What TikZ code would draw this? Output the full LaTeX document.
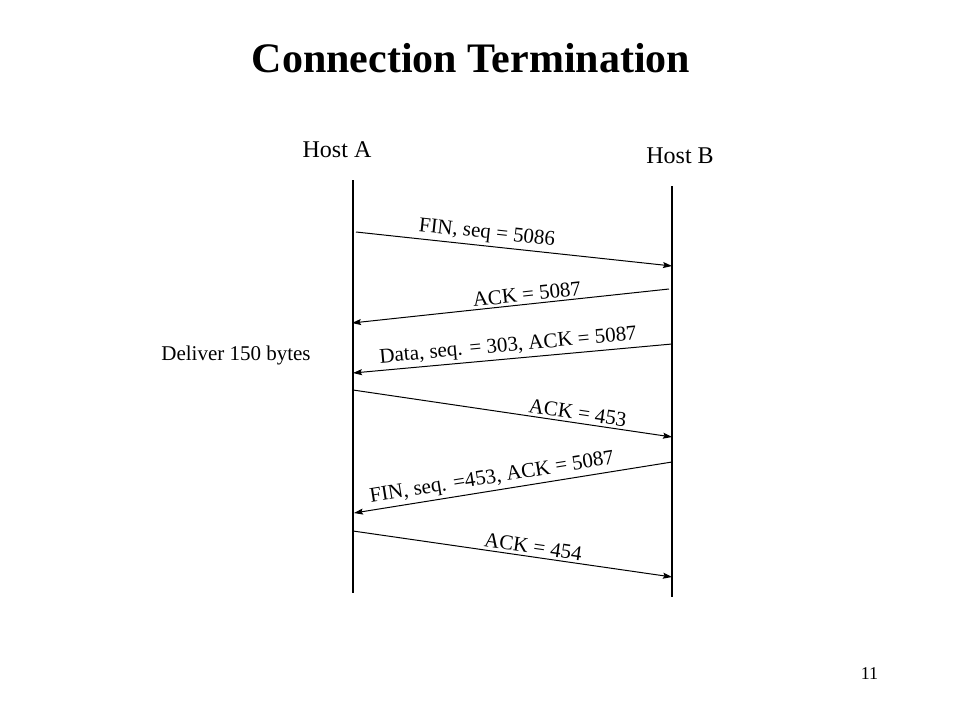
\documentclass[tikz,border=0pt]{standalone}
\usepackage{fontspec}
\setmainfont{Liberation Serif}
\usetikzlibrary{arrows.meta}
\tikzset{
  titre/.style = {font=\fontsize{42}{50}\selectfont\bfseries, anchor=base},
  hote/.style = {font=\fontsize{24}{28}\selectfont, anchor=base},% nom d'hote
  note/.style = {font=\fontsize{21}{25}\selectfont, anchor=base},
  vie/.style = {line width=1.2pt},% ligne de vie
  msg/.style = {->, line width=1pt},% message
  msg_l/.style = {font=\fontsize{21}{25}\selectfont, sloped, above,
    inner sep=2.5pt}% etiquette du message
}
\begin{document}
\begin{tikzpicture}[>={Stealth[length=9pt,width=6pt,inset=1.5pt]}, x=1pt, y=-1pt]
\useasboundingbox (0,0) rectangle (960,720);
\node [titre] (t) at (471,72) {Connection Termination};
\node [hote] (hA) at (337,157) {Host A};
\node [hote] (hB) at (680,163) {Host B};
\node [note] (dlv) at (236,360) {Deliver 150 bytes};
\node [font=\fontsize{18}{22}\selectfont, anchor=base] (num) at (869.5,679) {11};
% lignes de vie
\coordinate (a0) at (353,180); \coordinate (a1) at (353,593);
\coordinate (b0) at (672,186); \coordinate (b1) at (672,597);
\draw [vie] (a0) -- (a1);
\draw [vie] (b0) -- (b1);
% extremites des messages
\coordinate (m1s) at (356,232); \coordinate (m1e) at (672,266);
\coordinate (m2s) at (669,289); \coordinate (m2e) at (352,323);
\coordinate (m3s) at (672,344); \coordinate (m3e) at (353,373);
\coordinate (m4s) at (353,390); \coordinate (m4e) at (672,437);
\coordinate (m5s) at (672,462); \coordinate (m5e) at (354,513);
\coordinate (m6s) at (353,531); \coordinate (m6e) at (672,577);
\draw [msg] (m1s) -- node [msg_l, pos=0.41] {FIN, seq = 5086} (m1e);
\draw [msg] (m2s) -- node [msg_l, pos=0.445] {ACK = 5087} (m2e);
\draw [msg] (m3s) -- node [msg_l, pos=0.51] {Data, seq. = 303, ACK = 5087} (m3e);
\draw [msg] (m4s) -- node [msg_l, pos=0.70] {ACK = 453} (m4e);
\draw [msg] (m5s) -- node [msg_l, pos=0.56] {FIN, seq. =453, ACK = 5087} (m5e);
\draw [msg] (m6s) -- node [msg_l, pos=0.56] {ACK = 454} (m6e);
\end{tikzpicture}
\end{document}
